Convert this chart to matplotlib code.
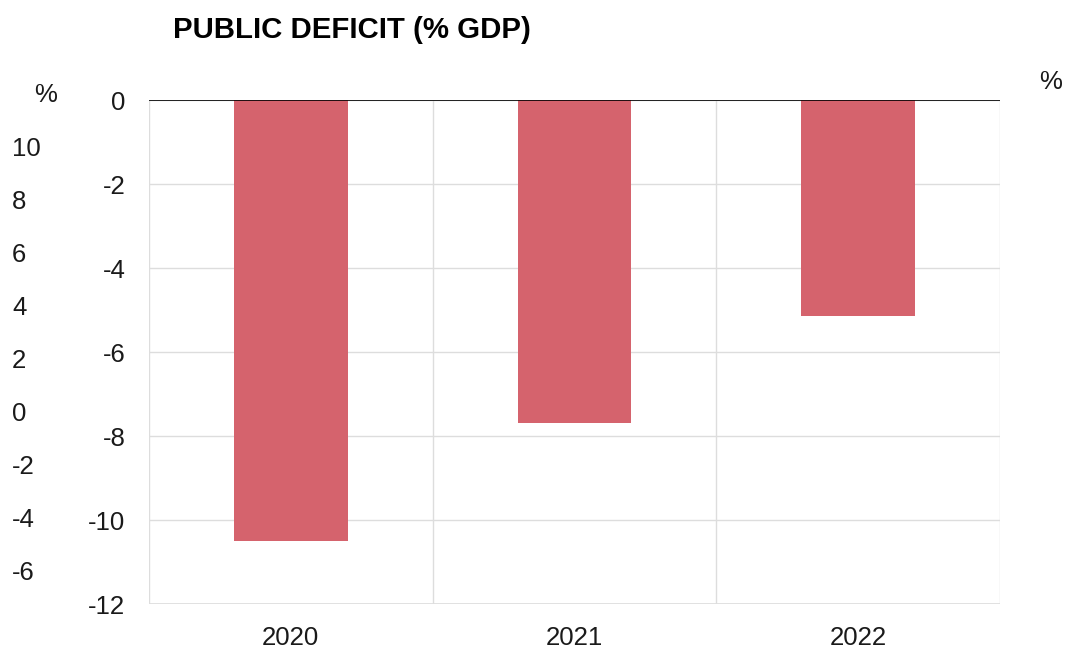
import matplotlib
matplotlib.use("Agg")
import matplotlib.pyplot as plt
import numpy as np

plt.rcParams['font.family'] = ['Liberation Sans', 'DejaVu Sans']

years = ["2020", "2021", "2022"]
deficit = [-10.5, -7.7, -5.15]
main_ticks = [0, -2, -4, -6, -8, -10, -12]
ghost_ticks = [10, 8, 6, 4, 2, 0, -2, -4, -6]
title = "PUBLIC DEFICIT (% GDP)"

bar_color = "#d5636d"
grid_color = "#dddddd"
text_color = "#1a1a1a"
fs = 18.5

fig = plt.figure(figsize=(10.67, 6.51), dpi=100)
ax = fig.add_axes([149/1067, 47/651, 851/1067, 504/651])

x = np.arange(len(years))
ax.bar(x, deficit, width=0.4, color=bar_color, zorder=3)
ax.set_xlim(-0.5, len(years) - 0.5)
ax.set_ylim(-12, 0)
ax.set_yticks(main_ticks)
ax.set_yticklabels([str(t) for t in main_ticks])
ax.set_xticks(x)
ax.set_xticklabels(years)
ax.set_xticks(np.arange(-0.5, len(years), 1.0), minor=True)
ax.tick_params(axis='both', which='both', length=0, labelsize=fs, colors=text_color)
ax.tick_params(axis='y', pad=17)
ax.tick_params(axis='x', pad=16)
ax.grid(axis='y', which='major', color=grid_color, linewidth=1, zorder=0)
ax.grid(axis='x', which='minor', color=grid_color, linewidth=1, zorder=0)
for s in ['left', 'right', 'bottom', 'top']:
    ax.spines[s].set_visible(False)
ax.axhline(0, color='black', linewidth=1.2, zorder=4)
ax.axhline(-12, color=grid_color, linewidth=1.2, zorder=2)

# ghost secondary axis on the far left
ax2 = ax.twinx()
ax2.set_ylim(-7.28, 11.74)
ax2.yaxis.set_ticks_position('left')
ax2.set_yticks(ghost_ticks)
ax2.set_yticklabels([str(t) for t in ghost_ticks])
for lbl in ax2.get_yticklabels():
    lbl.set_horizontalalignment('left')
ax2.tick_params(axis='y', length=0, labelsize=fs, colors=text_color, pad=98.6)
for s in ['left', 'right', 'bottom', 'top']:
    ax2.spines[s].set_visible(False)

fig.text(173/1067, 1 - 30/651, title, fontsize=21.2, fontweight='bold',
         ha='left', va='center', color='black')
fig.text(46/1067, 1 - 95/651, "%", fontsize=fs, ha='center', va='center', color=text_color)
fig.text(1051/1067, 1 - 82/651, "%", fontsize=fs, ha='center', va='center', color=text_color)

fig.savefig("out.png", dpi=100)
